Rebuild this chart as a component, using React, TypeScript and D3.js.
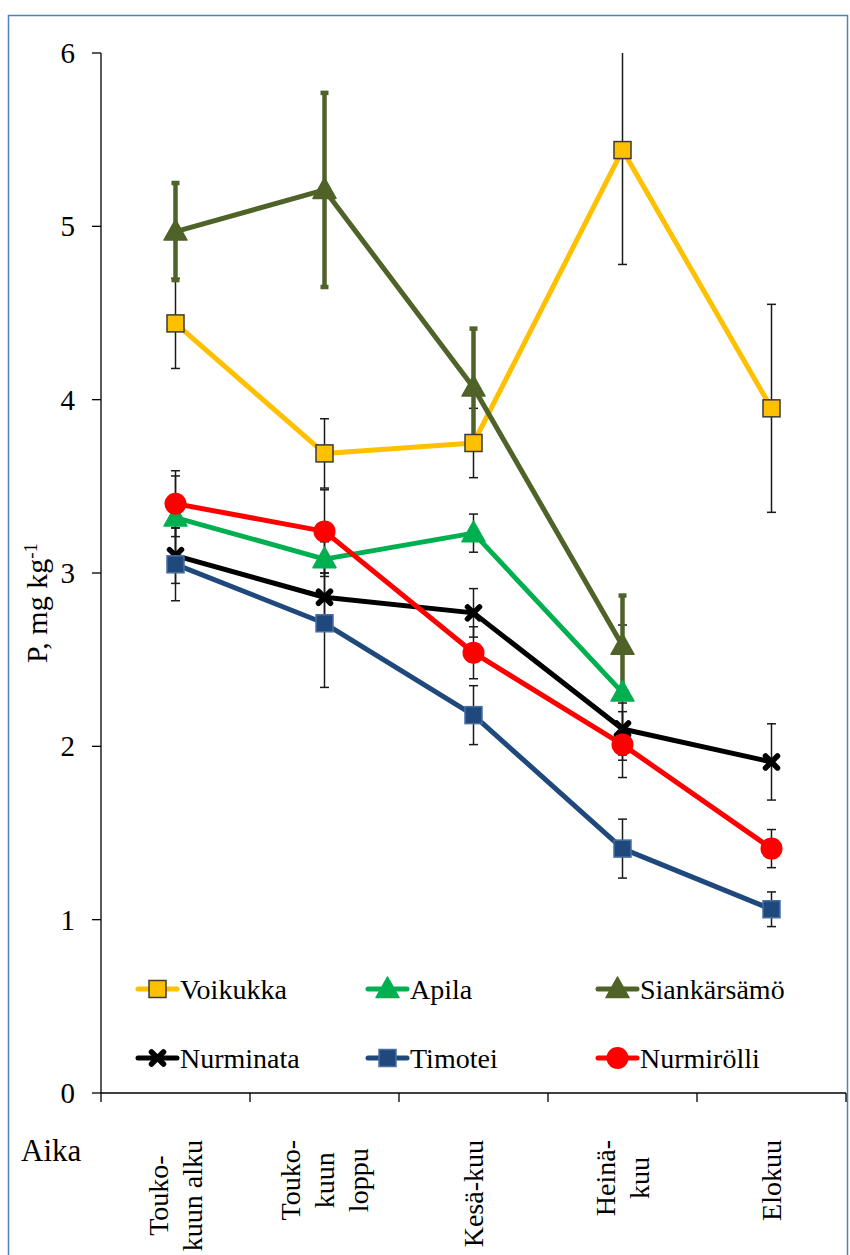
import React, { useEffect, useRef } from 'react';
import * as d3 from 'd3';

const categories = ['Touko-kuun alku', 'Touko-kuun loppu', 'Kesä-kuu', 'Heinä-kuu', 'Elokuu'];
const categoryLines = [['Touko-', 'kuun alku'], ['Touko-', 'kuun', 'loppu'], ['Kesä-kuu'], ['Heinä-', 'kuu'], ['Elokuu']];
const yTicks = [0, 1, 2, 3, 4, 5, 6];

const voikukka = [4.44, 3.69, 3.75, 5.44, 3.95];
const voikukkaErr = [0.26, 0.2, 0.2, 0.66, 0.6];
const apila = [3.32, 3.08, 3.23, 2.31, null];
const apilaErr = [0.24, 0.1, 0.11, 0.39, null];
const siankarsamo = [4.97, 5.21, 4.07, 2.58, null];
const siankarsamoErr = [0.28, 0.56, 0.34, 0.29, null];
const nurminata = [3.1, 2.86, 2.77, 2.1, 1.91];
const nurminataErr = [0.16, 0.14, 0.14, 0.15, 0.22];
const timotei = [3.05, 2.71, 2.18, 1.41, 1.06];
const timoteiErr = [0.21, 0.37, 0.17, 0.17, 0.1];
const nurmirolli = [3.4, 3.24, 2.54, 2.01, 1.41];
const nurmirolliErr = [0.19, 0.24, 0.15, 0.19, 0.11];

type Series = {
  name: string;
  values: (number | null)[];
  err: (number | null)[];
  color: string;
  marker: 'square' | 'triangle' | 'x' | 'circle';
  markerStroke?: string;
  thickErr?: boolean;
};

const series: Series[] = [
  { name: 'Voikukka', values: voikukka, err: voikukkaErr, color: '#ffc000', marker: 'square', markerStroke: '#3a3a3a' },
  { name: 'Apila', values: apila, err: apilaErr, color: '#00b050', marker: 'triangle' },
  { name: 'Siankärsämö', values: siankarsamo, err: siankarsamoErr, color: '#4f6228', marker: 'triangle', thickErr: true },
  { name: 'Nurminata', values: nurminata, err: nurminataErr, color: '#000000', marker: 'x' },
  { name: 'Timotei', values: timotei, err: timoteiErr, color: '#1f497d', marker: 'square', markerStroke: '#4a6fa5' },
  { name: 'Nurmirölli', values: nurmirolli, err: nurmirolliErr, color: '#ff0000', marker: 'circle' },
];

const FONT = '"Times New Roman", "Liberation Serif", serif';

function drawMarker(g: d3.Selection<SVGGElement, unknown, null, undefined>, s: Series, cx: number, cy: number) {
  if (s.marker === 'square') {
    const size = 17;
    g.append('rect')
      .attr('x', cx - size / 2)
      .attr('y', cy - size / 2)
      .attr('width', size)
      .attr('height', size)
      .attr('fill', s.color)
      .attr('stroke', s.markerStroke || s.color)
      .attr('stroke-width', 1.5);
  } else if (s.marker === 'circle') {
    g.append('circle').attr('cx', cx).attr('cy', cy).attr('r', 11).attr('fill', s.color);
  } else if (s.marker === 'triangle') {
    g.append('path')
      .attr('d', `M${cx},${cy - 12} L${cx + 11.5},${cy + 8.5} L${cx - 11.5},${cy + 8.5} Z`)
      .attr('fill', s.color)
      .attr('stroke', s.color)
      .attr('stroke-width', 1.5)
      .attr('stroke-linejoin', 'round');
  } else {
    const r = 6;
    g.append('path')
      .attr('d', `M${cx - r},${cy - r} L${cx + r},${cy + r} M${cx - r},${cy + r} L${cx + r},${cy - r}`)
      .attr('stroke', s.color)
      .attr('stroke-width', 5.5)
      .attr('stroke-linecap', 'round');
  }
}

export default function App() {
  const svgRef = useRef<SVGSVGElement>(null);

  useEffect(() => {
    if (!svgRef.current) return;
    const svg = d3.select(svgRef.current);
    svg.selectAll('*').remove();

    const width = 850;
    const height = 1255;
    svg.attr('width', width).attr('height', height);

    const x = d3.scaleBand<string>().domain(categories).range([101, 846]).padding(0);
    const y = d3.scaleLinear().domain([0, 6]).range([1093, 53]);
    const cx = (i: number) => x(categories[i])! + x.bandwidth() / 2;

    // outer frame
    svg.append('rect')
      .attr('x', 8.5)
      .attr('y', 15.5)
      .attr('width', 839)
      .attr('height', 1260)
      .attr('fill', '#ffffff')
      .attr('stroke', '#4f81bd')
      .attr('stroke-width', 1.5);

    const root = svg.append('g');

    // Y axis
    root.append('line')
      .attr('x1', 101).attr('x2', 101)
      .attr('y1', y(6)).attr('y2', y(0))
      .attr('stroke', '#000').attr('stroke-width', 1.3);
    yTicks.forEach((t) => {
      root.append('line')
        .attr('x1', 92).attr('x2', 101)
        .attr('y1', y(t)).attr('y2', y(t))
        .attr('stroke', '#000').attr('stroke-width', 1.3);
      root.append('text')
        .attr('x', 75)
        .attr('y', y(t))
        .attr('text-anchor', 'end')
        .attr('dominant-baseline', 'central')
        .attr('font-family', FONT)
        .attr('font-size', 29)
        .attr('fill', '#000')
        .text(String(t));
    });

    // X axis
    root.append('line')
      .attr('x1', 101).attr('x2', 846)
      .attr('y1', y(0)).attr('y2', y(0))
      .attr('stroke', '#000').attr('stroke-width', 1.3);
    const boundaries = categories.map((c) => x(c)!).concat([846]);
    boundaries.forEach((b) => {
      root.append('line')
        .attr('x1', b).attr('x2', b)
        .attr('y1', y(0)).attr('y2', y(0) + 9)
        .attr('stroke', '#000').attr('stroke-width', 1.3);
    });

    // Y label
    const yl = root.append('text')
      .attr('transform', 'translate(47,603) rotate(-90)')
      .attr('text-anchor', 'middle')
      .attr('font-family', FONT)
      .attr('font-size', 30)
      .attr('fill', '#000');
    yl.append('tspan').text('P, mg kg');
    yl.append('tspan').attr('baseline-shift', 'super').attr('font-size', 19).text('-1');

    // Aika
    root.append('text')
      .attr('x', 21)
      .attr('y', 1161)
      .attr('font-family', FONT)
      .attr('font-size', 31)
      .attr('fill', '#000')
      .text('Aika');

    // Category labels
    categoryLines.forEach((lines, i) => {
      const c = cx(i);
      const texts = lines.map((ln) =>
        root.append('text')
          .attr('text-anchor', 'middle')
          .attr('dominant-baseline', 'central')
          .attr('font-family', FONT)
          .attr('font-size', 28)
          .attr('fill', '#000')
          .text(ln)
      );
      const lens = texts.map((t) => (t.node() as SVGTextElement).getComputedTextLength());
      const maxLen = d3.max(lens) || 0;
      const midY = 1140 + maxLen / 2;
      texts.forEach((t, j) => {
        const lx = c + (j - (lines.length - 1) / 2) * 34;
        t.attr('transform', `translate(${lx},${midY}) rotate(-90)`);
      });
    });

    // Error bars (all series first)
    series.forEach((s) => {
      s.values.forEach((v, i) => {
        const e = s.err[i];
        if (v == null || e == null) return;
        const top = Math.min(v + e, 6);
        const bot = Math.max(v - e, 0);
        const px = cx(i);
        const col = s.thickErr ? s.color : '#1a1a1a';
        const sw = s.thickErr ? 4.5 : 1.5;
        const capW = s.thickErr ? 4 : 4.5;
        root.append('line')
          .attr('x1', px).attr('x2', px)
          .attr('y1', y(top)).attr('y2', y(bot))
          .attr('stroke', col).attr('stroke-width', sw);
        [top, bot].forEach((val) => {
          if (val >= 6) return;
          root.append('line')
            .attr('x1', px - capW).attr('x2', px + capW)
            .attr('y1', y(val)).attr('y2', y(val))
            .attr('stroke', col).attr('stroke-width', sw);
        });
      });
    });

    // Lines and markers
    const lineGen = d3.line<[number, number | null]>()
      .defined((d) => d[1] != null)
      .x((d) => cx(d[0]))
      .y((d) => y(d[1] as number));

    series.forEach((s) => {
      const g = root.append('g');
      const pts: [number, number | null][] = s.values.map((v, i) => [i, v]);
      g.append('path')
        .attr('d', lineGen(pts) || '')
        .attr('fill', 'none')
        .attr('stroke', s.color)
        .attr('stroke-width', 5)
        .attr('stroke-linejoin', 'round');
      s.values.forEach((v, i) => {
        if (v == null) return;
        drawMarker(g, s, cx(i), y(v));
      });
    });

    // Legend
    const legendCols = [138, 368, 598];
    const legendRows = [989, 1058];
    series.forEach((s, k) => {
      const lx = legendCols[k % 3];
      const ly = legendRows[Math.floor(k / 3)];
      const g = root.append('g');
      g.append('line')
        .attr('x1', lx).attr('x2', lx + 39)
        .attr('y1', ly).attr('y2', ly)
        .attr('stroke', s.color)
        .attr('stroke-width', 5)
        .attr('stroke-linecap', 'round');
      drawMarker(g, s, lx + 19.5, ly);
      g.append('text')
        .attr('x', lx + 42)
        .attr('y', ly)
        .attr('dominant-baseline', 'central')
        .attr('font-family', FONT)
        .attr('font-size', 28)
        .attr('fill', '#000')
        .text(s.name);
    });
  }, []);

  return (
    <div style={{ position: 'absolute', left: 0, top: 0, width: 850, height: 1255, overflow: 'hidden', background: '#fff' }}>
      <svg ref={svgRef}></svg>
    </div>
  );
}
